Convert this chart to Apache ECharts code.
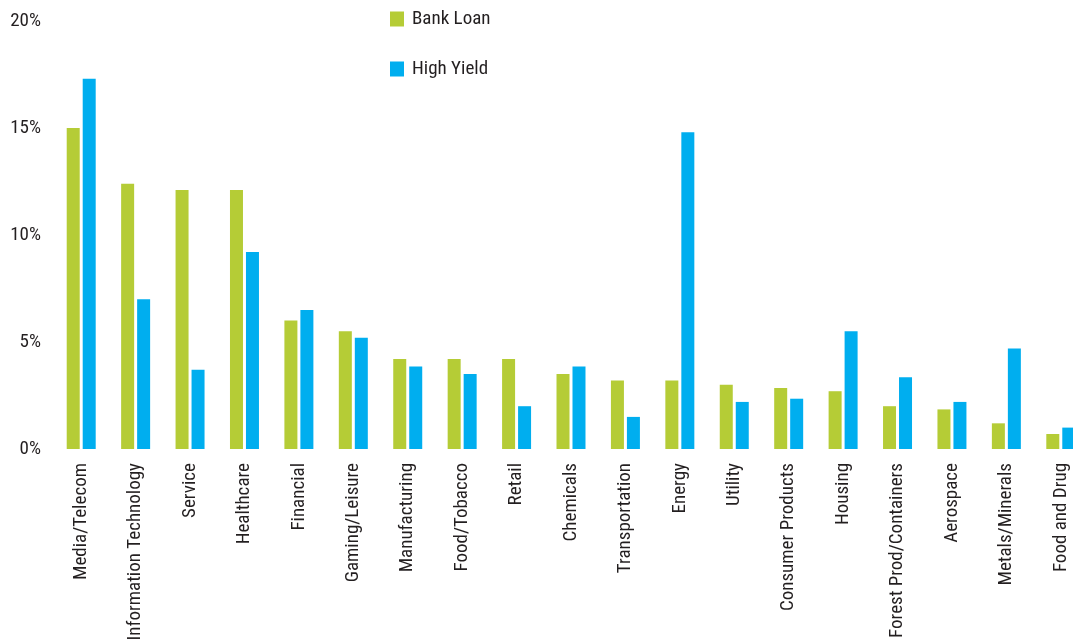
<!DOCTYPE html>
<html>
<head>
<meta charset="utf-8">
<style>
  html, body { margin: 0; padding: 0; background: #fff; }
  #main { width: 1073px; height: 644px; }
</style>
<script src="https://cdn.jsdelivr.net/npm/echarts@6/dist/echarts.min.js"></script>
</head>
<body>
<div id="main"></div>
<script>
// 行业分布数据
var categories = ['Media/Telecom', 'Information Technology', 'Service', 'Healthcare', 'Financial',
  'Gaming/Leisure', 'Manufacturing', 'Food/Tobacco', 'Retail', 'Chemicals', 'Transportation',
  'Energy', 'Utility', 'Consumer Products', 'Housing', 'Forest Prod/Containers', 'Aerospace',
  'Metals/Minerals', 'Food and Drug'];
var bankLoan = [15.0, 12.4, 12.1, 12.1, 6.0, 5.5, 4.2, 4.2, 4.2, 3.5, 3.2, 3.2, 3.0, 2.85, 2.7, 2.0, 1.85, 1.2, 0.7];
var highYield = [17.3, 7.0, 3.7, 9.2, 6.5, 5.2, 3.85, 3.5, 2.0, 3.85, 1.5, 14.8, 2.2, 2.35, 5.5, 3.35, 2.2, 4.7, 1.0];
var yTicks = [0, 5, 10, 15, 20];

var font = "'Roboto Condensed', 'DejaVu Sans Condensed', sans-serif";
var textColor = '#231f20';

var chart = echarts.init(document.getElementById('main'));
chart.setOption({
  color: ['#b5cc36', '#00aeef'],
  legend: {
    orient: 'vertical',
    left: 385,
    top: 4,
    itemWidth: 14,
    itemHeight: 15,
    itemGap: 30,
    icon: 'rect',
    textStyle: { fontFamily: font, fontSize: 19, color: textColor, lineHeight: 20, padding: [0, 0, 0, 3] },
    data: ['Bank Loan', 'High Yield']
  },
  grid: {
    left: 54,
    top: 21,
    width: 1034,
    bottom: 195,
    outerBoundsMode: 'none',
    containLabel: false
  },
  xAxis: {
    type: 'category',
    data: categories,
    axisLine: { show: false },
    axisTick: { show: false },
    axisLabel: {
      rotate: 90,
      interval: 0,
      margin: 14,
      fontFamily: font,
      fontSize: 19,
      color: textColor
    }
  },
  yAxis: {
    type: 'value',
    min: yTicks[0],
    max: yTicks[yTicks.length - 1],
    interval: 5,
    splitLine: { show: false },
    axisLine: { show: false },
    axisTick: { show: false },
    axisLabel: {
      formatter: '{value}%',
      margin: 13,
      fontFamily: font,
      fontSize: 19,
      color: textColor
    }
  },
  series: [
    {
      name: 'Bank Loan',
      type: 'bar',
      barWidth: 13,
      barGap: '23%',
      data: bankLoan
    },
    {
      name: 'High Yield',
      type: 'bar',
      barWidth: 13,
      barGap: '23%',
      data: highYield
    }
  ]
});
</script>
</body>
</html>
